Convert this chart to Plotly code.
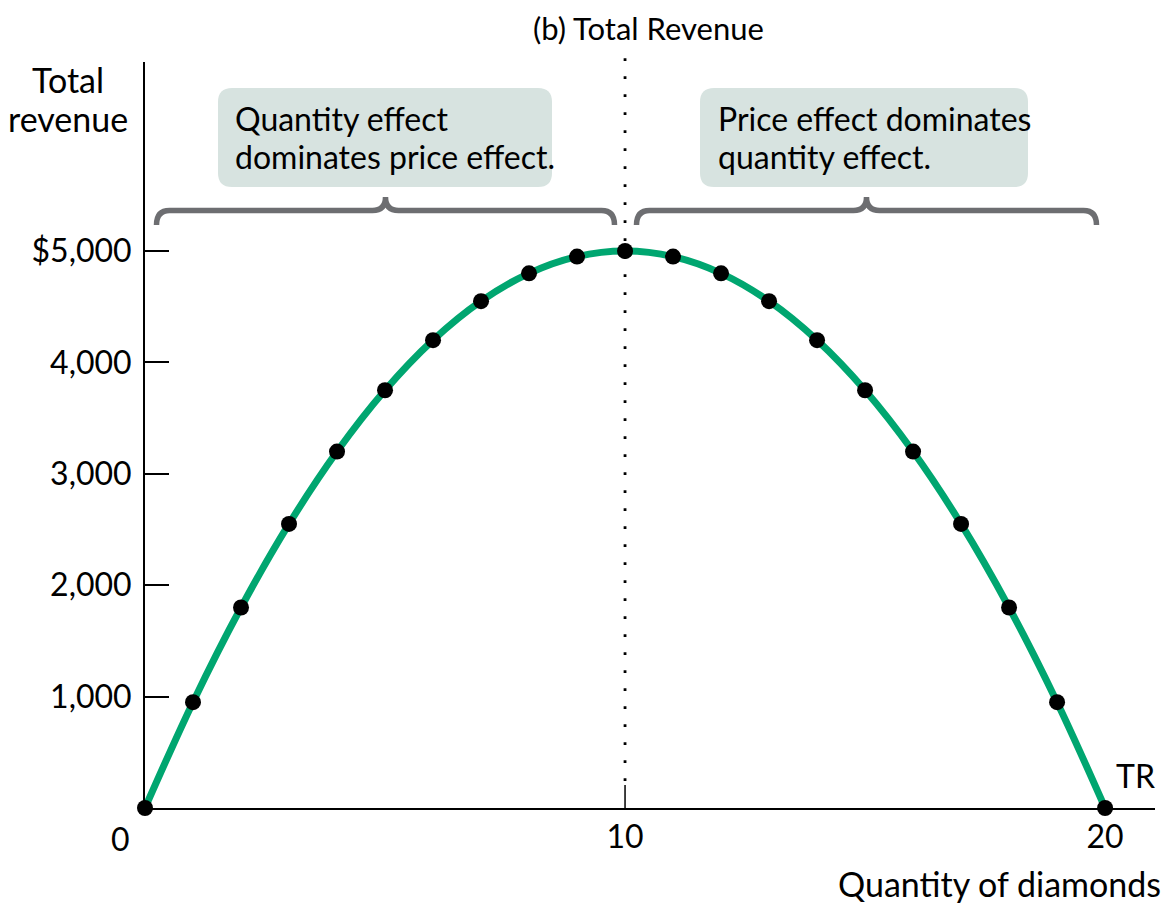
import plotly.graph_objects as go

# ---- data ----
quantity = [0, 1, 2, 3, 4, 5, 6, 7, 8, 9, 10, 11, 12, 13, 14, 15, 16, 17, 18, 19, 20]
total_revenue = [0, 950, 1800, 2550, 3200, 3750, 4200, 4550, 4800, 4950, 5000,
                 4950, 4800, 4550, 4200, 3750, 3200, 2550, 1800, 950, 0]
y_tick_vals = [1000, 2000, 3000, 4000, 5000]
y_tick_text = ["1,000", "2,000", "3,000", "4,000", "$5,000"]
x_tick_vals = [10, 20]
x_tick_text = ["10", "20"]
divider_quantity = 10

# ---- layout geometry (screen pixels; page body has an 8px margin) ----
OFF = 8
W, H = 1169 - OFF, 906 - OFF
L, R, T, B = 145, 1155, 62, 808          # plot area on screen
X_MAX = 21.04
Y_MAX = 6697
FONT = "Lato"
FS = 32
FS_AXIS = 34
GREEN = "rgb(0,166,112)"
GRAY = "rgb(109,110,113)"
BOX = "rgb(215,227,224)"

def dx(p):  # pixel distance -> x data units
    return p * X_MAX / (R - L)

def dy(p):  # pixel distance -> y data units
    return p * Y_MAX / (B - T)

def px(p):  # screen x -> data x
    return (p - L) * X_MAX / (R - L)

def py(p):  # screen y -> data y
    return (B - p) * Y_MAX / (B - T)

def ppx(p):  # screen x -> paper x
    return (p - L) / (R - L)

def ppy(p):  # screen y -> paper y
    return (B - p) / (B - T)

fig = go.Figure()

fig.add_trace(go.Scatter(
    x=quantity, y=total_revenue, mode="lines+markers",
    line=dict(color=GREEN, width=7, shape="spline", smoothing=1.0),
    marker=dict(color="black", size=16),
    cliponaxis=False, showlegend=False, hoverinfo="skip",
))

shapes = []
# dotted vertical line at the revenue-maximising quantity
xd = divider_quantity / X_MAX
shapes.append(dict(type="line", xref="paper", yref="paper", x0=xd, x1=xd,
                   y0=ppy(781), y1=ppy(46), layer="below",
                   line=dict(color="black", width=2.8, dash="2.8px,15.2px")))
# short solid tick at 10
shapes.append(dict(type="line", xref="x", yref="y", x0=divider_quantity, x1=divider_quantity,
                   y0=0, y1=dy(23), layer="below",
                   line=dict(color="black", width=1.5)))

def brace(x0, x1, yb, yt, ycusp, rx):
    c = (x0 + x1) / 2
    return (f"M {x0},{yb} Q {x0},{yt} {x0+rx},{yt} L {c-rx},{yt} "
            f"Q {c},{yt} {c},{ycusp} Q {c},{yt} {c+rx},{yt} "
            f"L {x1-rx},{yt} Q {x1},{yt} {x1},{yb}")

yb, yt, yc = py(225), py(210.5), py(197)
for (a, b) in [(px(156.5), px(614.5)), (px(636.5), px(1096.5))]:
    shapes.append(dict(type="path", xref="x", yref="y",
                       path=brace(a, b, yb, yt, yc, dx(13)),
                       line=dict(color=GRAY, width=5.5)))

def rounded_rect(x0, x1, y0, y1, rx, ry):
    return (f"M {x0+rx},{y1} L {x1-rx},{y1} Q {x1},{y1} {x1},{y1-ry} "
            f"L {x1},{y0+ry} Q {x1},{y0} {x1-rx},{y0} L {x0+rx},{y0} "
            f"Q {x0},{y0} {x0},{y0+ry} L {x0},{y1-ry} Q {x0},{y1} {x0+rx},{y1} Z")

for (a, b) in [(px(218), px(552)), (px(700), px(1028))]:
    shapes.append(dict(type="path", xref="x", yref="y", layer="below",
                       path=rounded_rect(a, b, py(187), py(88), dx(14), dy(14)),
                       fillcolor=BOX, line=dict(width=0)))

annotations = []
def text(x, y, s, anchor="left", size=FS, pad=1):
    annotations.append(dict(x=ppx(x), y=ppy(y), xref="paper", yref="paper", text=s,
                            showarrow=False, xanchor=anchor, yanchor="middle",
                            borderpad=pad,
                            font=dict(family=FONT, size=size, color="black")))

text(233, 118, "Quantity effect")
text(233, 156, "dominates price effect.")
text(716, 118, "Price effect dominates")
text(716, 156, "quantity effect.")
text(648, 28, "(b) Total Revenue", anchor="center", size=31, pad=0)
text(68, 79, "Total", anchor="center", size=FS_AXIS)
text(68, 118, "revenue", anchor="center", size=FS_AXIS)
text(1135, 775, "TR", anchor="center")
text(1163, 883, "Quantity of diamonds", anchor="right", size=FS_AXIS)
text(120, 838, "0", anchor="center")

fig.update_layout(
    width=W, height=H,
    margin=dict(l=L - OFF, r=W - (R - OFF), t=T - OFF, b=H - (B - OFF), pad=0),
    paper_bgcolor="white", plot_bgcolor="white",
    font=dict(family=FONT, size=FS, color="black"),
    shapes=shapes, annotations=annotations,
    xaxis=dict(range=[0, X_MAX], showgrid=False, zeroline=False,
               showline=True, linecolor="black", linewidth=2,
               tickvals=x_tick_vals, ticktext=x_tick_text, ticks="",
               tickfont=dict(family=FONT, size=FS, color="black")),
    yaxis=dict(range=[0, Y_MAX], showgrid=False, zeroline=False,
               showline=True, linecolor="black", linewidth=2,
               tickvals=y_tick_vals, ticktext=y_tick_text,
               ticks="inside", ticklen=24, tickwidth=1.5, tickcolor="black",
               ticklabelstandoff=5,
               tickfont=dict(family=FONT, size=FS, color="black")),
)

fig.write_html("out.html")
